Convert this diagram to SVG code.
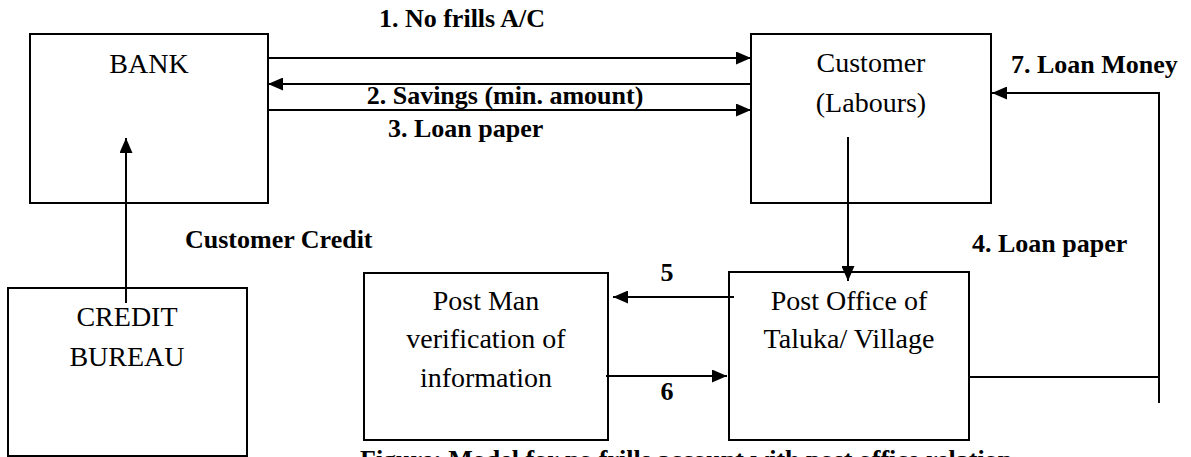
<svg xmlns="http://www.w3.org/2000/svg" width="1191" height="457" viewBox="0 0 1191 457">
<style>
.box{fill:#fff;stroke:#000;stroke-width:2}
.t{font-family:"Liberation Serif","Times New Roman",serif;font-size:28px;fill:#000;text-anchor:middle}
.b{font-family:"Liberation Serif","Times New Roman",serif;font-size:26px;font-weight:bold;fill:#000}
.c{fill:none;stroke:#000;stroke-width:2}
</style>
<defs>
<marker id="ah" markerUnits="userSpaceOnUse" markerWidth="15" markerHeight="13" refX="15" refY="6.5" orient="auto">
<path d="M0,0 L15,6.5 L0,13 z" fill="#000"/>
</marker>
</defs>
<rect width="1191" height="457" fill="#fff"/>
<g id="bank"><rect class="box" x="30" y="34" width="238" height="169"/><text class="t" x="149" y="73">BANK</text></g>
<g id="customer"><rect class="box" x="751" y="34" width="240" height="169"/><text class="t" x="871" y="72">Customer</text><text class="t" x="871" y="112">(Labours)</text></g>
<g id="credit-bureau"><rect class="box" x="8" y="288" width="239" height="168"/><text class="t" x="127" y="326">CREDIT</text><text class="t" x="127" y="366">BUREAU</text></g>
<g id="postman"><rect class="box" x="364" y="273" width="244" height="167"/><text class="t" x="486" y="310">Post Man</text><text class="t" x="486" y="348">verification of</text><text class="t" x="486" y="387">information</text></g>
<g id="post-office"><rect class="box" x="729" y="272" width="240" height="168"/><text class="t" x="849" y="310">Post Office of</text><text class="t" x="849" y="348">Taluka/ Village</text></g>
<g id="connectors">
<path class="c" d="M268,58 H751" marker-end="url(#ah)"/>
<path class="c" d="M751,84 H268" marker-end="url(#ah)"/>
<path class="c" d="M268,110 H751" marker-end="url(#ah)"/>
<path class="c" d="M126,303 V138" marker-end="url(#ah)"/>
<path class="c" d="M848,137 V281" marker-end="url(#ah)"/>
<path class="c" d="M734,297 H613" marker-end="url(#ah)"/>
<path class="c" d="M606,376 H727" marker-end="url(#ah)"/>
<path class="c" d="M969,377 H1159"/>
<path class="c" d="M1159,403 V93 H992" marker-end="url(#ah)"/>
</g>
<g id="labels">
<text class="b" x="462" y="27" text-anchor="middle">1. No frills A/C</text>
<text class="b" x="505" y="104" text-anchor="middle">2. Savings (min. amount)</text>
<text class="b" x="388" y="137">3. Loan paper</text>
<text class="b" x="1011" y="73">7. Loan Money</text>
<text class="b" x="185" y="248">Customer Credit</text>
<text class="b" x="972" y="252">4. Loan paper</text>
<text class="b" x="667" y="281" text-anchor="middle">5</text>
<text class="b" x="667" y="400" text-anchor="middle">6</text>
<text class="b" x="360" y="468">Figure: Model for no frills account with post office relation</text>
</g>
</svg>
